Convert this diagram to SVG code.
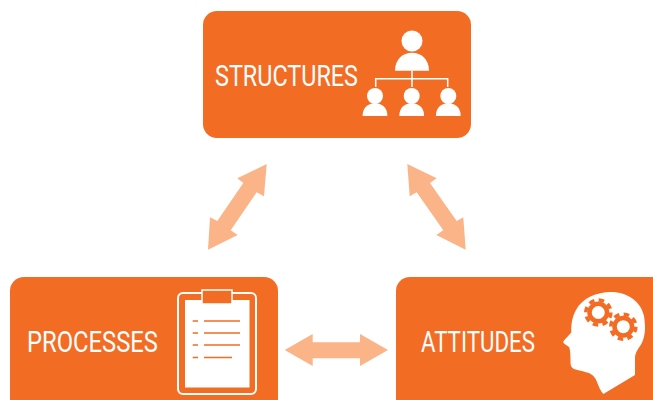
<svg xmlns="http://www.w3.org/2000/svg" width="653" height="400" viewBox="0 0 653 400">
<style>
.box{fill:#f36c24}
.lbl{font-family:"Roboto","Liberation Sans",sans-serif;font-size:29px;fill:#fff}
.arr{fill:#fbb488}
.w{fill:#fff}
.ln{fill:none;stroke:#fff;stroke-width:1.5}
.oln{fill:none;stroke:#f36c24;stroke-width:1.5}
.teeth{fill:none;stroke:#f36c24;stroke-width:3.6;stroke-dasharray:5.500 4.317}
</style>
<defs>
<g id="person"><circle cx="0" cy="-12" r="8"/><path d="M-12.4 8C-12.4 -1 -6.500 -4.700 0 -4.700C6.500 -4.700 12.400 -1 12.400 8Z"/></g>
<g id="gear"><circle r="11" fill="#f36c24"/><circle r="12.500" class="teeth"/><circle r="6.500" fill="#fff"/></g>
</defs>
<g id="connectors">
<polygon class="arr" points="266.700,164 237.300,178.300 243.300,183 217.300,221 210,217.300 208,249.700 237.700,235 230.700,230.300 256.700,192.300 264,196.300"/>
<polygon class="arr" points="407.300,164 436.700,178.300 430,183 456.700,221 463.300,217.300 465.700,249.700 436.300,235 443.300,230.300 416.700,192.300 409.700,196.300"/>
<polygon class="arr" points="284.700,350 312.700,334 312.700,342.300 360,342.300 360,334 388,350 360,366 360,358.300 312.700,358.300 312.700,366"/>
</g>
<g id="structures">
<rect class="box" x="203" y="11" width="268" height="127" rx="14"/>
<text class="lbl" x="215" y="86" textLength="143" lengthAdjust="spacingAndGlyphs">STRUCTURES</text>
<circle class="w" cx="412" cy="41" r="10.500"/>
<path class="w" d="M395 70.700C395 59 403 52.700 412 52.700C421 52.700 429 59 429 70.700Z"/>
<path class="ln" d="M412 70.700V87M375.700 87V78.700H447.700V87"/>
<use href="#person" class="w" x="375" y="108"/>
<use href="#person" class="w" x="411.700" y="108"/>
<use href="#person" class="w" x="448.300" y="108"/>
</g>
<g id="processes">
<rect class="box" x="10" y="277" width="268" height="140" rx="14"/>
<text class="lbl" x="27" y="352" textLength="131" lengthAdjust="spacingAndGlyphs">PROCESSES</text>
<rect x="178" y="293" width="78" height="101" rx="5" fill="none" stroke="#fff" stroke-width="2"/>
<rect class="w" x="185" y="300" width="64.500" height="87.500"/>
<rect class="box" x="202" y="290" width="30" height="14" stroke="#fff" stroke-width="1.500"/>
<path class="oln" d="M204 321H240M204 333H240M204 345H240M204 357.500H232M192.700 321H198M192.700 333H198M192.700 345H198M192.700 357.500H198"/>
</g>
<g id="attitudes">
<rect class="box" x="396" y="277" width="280" height="140" rx="14"/>
<text class="lbl" x="421" y="352" textLength="114" lengthAdjust="spacingAndGlyphs">ATTITUDES</text>
<path class="w" d="M603.300 394C600.500 391 599 387 597 382C595.500 378 594 376 590 373.500C585 371.500 578 370.500 574 369C571 367.500 570.500 365 570.500 362C570.500 357 570.500 352 569.300 347.300L564 343.500C563 342.500 563 341.500 564 340.500L571.300 332.500C571 325 572 317 576 310C582 298 597 292 611 292C628 292 641 302 644 316C646 329 645 337 641 344.500C638 349 635 353 635 358V375Z"/>
<use href="#gear" x="598.300" y="312.500"/>
<use href="#gear" x="623.300" y="326.700"/>
</g>
</svg>
